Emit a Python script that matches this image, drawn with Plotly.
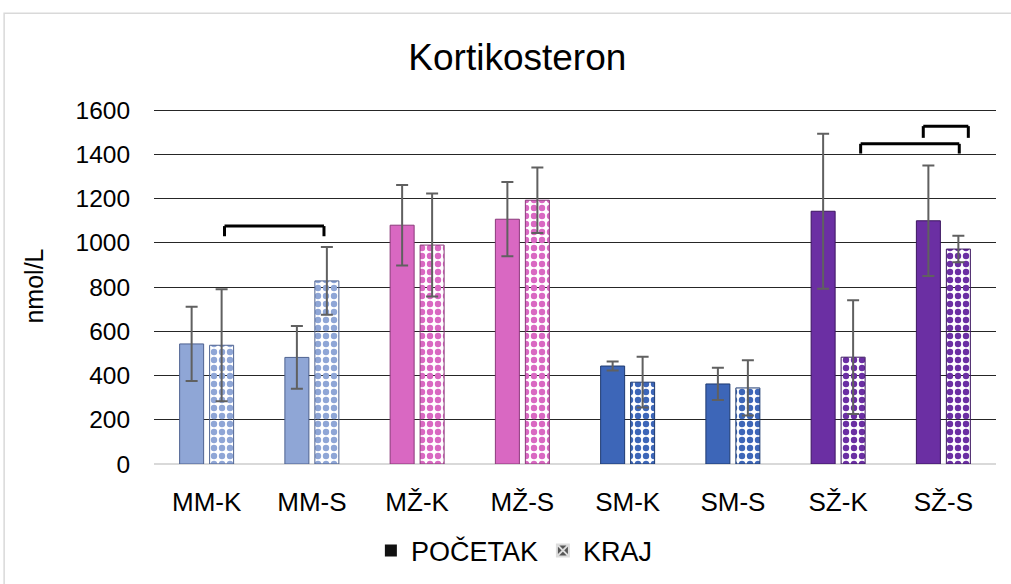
import plotly.graph_objects as go

categories = ["MM-K", "MM-S", "MŽ-K", "MŽ-S", "SM-K", "SM-S", "SŽ-K", "SŽ-S"]
pocetak = [543, 482, 1080, 1107, 443, 362, 1143, 1100]
pocetak_err = [168, 142, 182, 168, 20, 73, 350, 250]
kraj = [537, 828, 990, 1193, 370, 344, 483, 972]
kraj_err = [253, 153, 233, 148, 115, 125, 257, 60]
y_ticks = [0, 200, 400, 600, 800, 1000, 1200, 1400, 1600]

group_colors = ["#8fa6d6", "#8fa6d6", "#d968c2", "#d968c2",
                "#3d66b8", "#3d66b8", "#6b2fa3", "#6b2fa3"]
edge_colors = ["#4e6290", "#4e6290", "#8a3a7a", "#8a3a7a",
               "#1e3a70", "#1e3a70", "#3c1660", "#3c1660"]

# significance brackets: (x start, x end, top value, leg end value)
brackets = [(0.17, 1.115, 1076, 1030),
            (6.214, 7.151, 1448, 1404),
            (6.809, 7.237, 1528, 1475)]

FONT = "Liberation Sans, Arial, sans-serif"

fig = go.Figure()
fig.add_trace(go.Bar(
    x=categories, y=pocetak, name="POČETAK", showlegend=False,
    marker=dict(color=group_colors, line=dict(color=edge_colors, width=1)),
    error_y=dict(type="data", array=pocetak_err, color="#606060", thickness=2, width=6),
))
fig.add_trace(go.Bar(
    x=categories, y=kraj, name="KRAJ", showlegend=False,
    marker=dict(color=group_colors, line=dict(color=edge_colors, width=1),
                pattern=dict(shape=".", fgcolor=group_colors, bgcolor="#ffffff",
                             fillmode="replace", size=8, solidity=0.5)),
    error_y=dict(type="data", array=kraj_err, color="#606060", thickness=2, width=6),
))
# legend entries
fig.add_trace(go.Scatter(x=[None], y=[None], mode="markers", name="POČETAK",
                         marker=dict(symbol="square", size=14, color="#111111")))
fig.add_trace(go.Scatter(x=[None], y=[None], mode="markers", name="KRAJ",
                         marker=dict(symbol="square-x", size=14, color="#555555",
                                     line=dict(color="#dddddd", width=1))))

for x0, x1, yt, yb in brackets:
    for seg in [(x0, yb, x0, yt), (x0, yt, x1, yt), (x1, yt, x1, yb)]:
        fig.add_shape(type="line", xref="x", yref="y",
                      x0=seg[0], y0=seg[1], x1=seg[2], y1=seg[3],
                      line=dict(color="black", width=3))

# chart-area border
fig.add_shape(type="rect", xref="paper", yref="paper",
              x0=-0.178, x1=1.05, y0=-0.4, y1=1.266,
              line=dict(color="#d9d9d9", width=1.5), layer="below")

fig.update_layout(
    width=1011, height=584,
    margin=dict(l=154, r=15, t=108, b=120, autoexpand=False),
    paper_bgcolor="white", plot_bgcolor="white",
    barmode="group", bargap=0.43, bargroupgap=0.2,
    font=dict(family=FONT, size=24, color="#000000"),
    title=dict(text="Kortikosteron", x=0.5117, xanchor="center",
               y=0.903, yanchor="middle", font=dict(size=37, family=FONT)),
    showlegend=True,
    legend=dict(orientation="h", x=0.428, xanchor="center", y=-0.244, yanchor="middle",
                font=dict(size=27), itemsizing="constant", tracegroupgap=0,
                itemwidth=30, bgcolor="rgba(0,0,0,0)"),
    xaxis=dict(type="category", showgrid=False, showline=False, zeroline=False,
               ticks="outside", ticklen=15, tickcolor="rgba(0,0,0,0)",
               tickfont=dict(size=26)),
    yaxis=dict(range=[0, 1610], tickvals=y_ticks, showgrid=True,
               gridcolor="#262626", gridwidth=1.3,
               zeroline=True, zerolinecolor="#d9d9d9", zerolinewidth=2,
               showline=False, ticks="outside", ticklen=18, tickcolor="rgba(0,0,0,0)",
               tickfont=dict(size=24.5),
               title=dict(text="nmol/L", font=dict(size=25), standoff=24)),
)

fig.write_html("out.html", config={"displayModeBar": False},
               post_script="document.body.style.margin='0';")
